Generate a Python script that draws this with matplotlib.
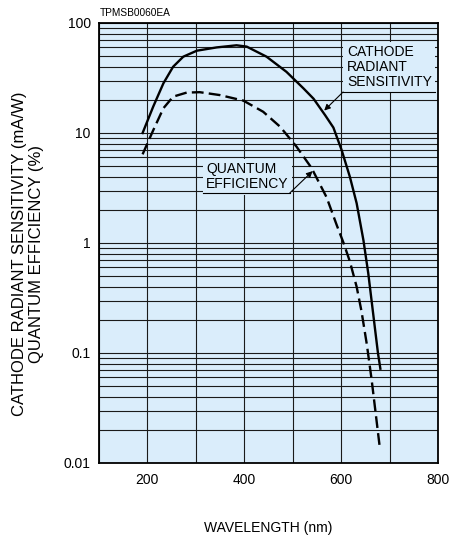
import matplotlib
matplotlib.use("Agg")
import matplotlib.pyplot as plt
from matplotlib.ticker import FixedLocator, LogLocator, MultipleLocator, FuncFormatter, NullFormatter

plt.rcParams["font.family"] = ["Liberation Sans", "DejaVu Sans"]

# cathode radiant sensitivity (mA/W)
wl_sens = [190, 212, 233, 253, 274, 302, 343, 384, 405, 446, 487, 522, 543, 567,
           584, 601, 618, 632, 646, 656, 666, 676, 681]
sens = [10, 17.4, 28.3, 40, 49.4, 56, 60, 62.7, 61, 49.4, 36, 25.5, 20.5, 14.5,
        11.2, 7.0, 4.0, 2.3, 1.06, 0.53, 0.23, 0.1, 0.072]

# quantum efficiency (%)
wl_qe = [190, 212, 233, 253, 281, 308, 350, 398, 439, 474, 508, 539, 570,
         591, 605, 618, 632, 642, 653, 663, 680]
qe = [6.4, 10.6, 16.8, 21.4, 23.3, 23.5, 22.1, 19.7, 15.6, 11.4, 7.5, 4.8, 2.6,
      1.45, 1.0, 0.68, 0.40, 0.24, 0.12, 0.057, 0.0136]

x_ticks = [200, 400, 600, 800]
y_ticks = [0.01, 0.1, 1, 10, 100]

BG = "#daedfb"
GRID = "#1a1a1a"

fig = plt.figure(figsize=(4.53, 5.36), dpi=100)
ax = fig.add_axes([99 / 453, 1 - 463 / 536, (438 - 99) / 453, (463 - 23) / 536])
ax.set_facecolor(BG)

ax.plot(wl_sens, sens, color="black", lw=1.7, zorder=4, solid_joinstyle="round")
ax.plot(wl_qe, qe, color="black", lw=1.7, ls=(0, (5, 2.2)), zorder=4)

ax.set_yscale("log")
ax.set_xlim(100, 800)
ax.set_ylim(0.01, 100)
ax.xaxis.set_major_locator(FixedLocator(x_ticks))
ax.xaxis.set_minor_locator(MultipleLocator(100))
ax.yaxis.set_major_locator(FixedLocator(y_ticks))
ax.yaxis.set_minor_locator(LogLocator(base=10, subs=range(2, 10)))
ax.yaxis.set_major_formatter(FuncFormatter(lambda v, p: f"{v:g}"))
ax.yaxis.set_minor_formatter(NullFormatter())
ax.grid(True, which="both", color=GRID, lw=0.8, zorder=1)
ax.set_axisbelow(True)
ax.tick_params(which="both", length=0, labelsize=10)
ax.tick_params(axis="y", pad=6)
ax.tick_params(axis="x", pad=7)
for s in ax.spines.values():
    s.set_linewidth(1.3)

ax.set_xlabel("WAVELENGTH (nm)", fontsize=10, labelpad=25)
fig.text(28 / 453, 1 - 254 / 536,
         "CATHODE RADIANT SENSITIVITY (mA/W)\nQUANTUM EFFICIENCY (%)",
         rotation=90, ha="center", va="center", multialignment="center",
         fontsize=12, linespacing=1.15)

fig.text(100 / 453, 1 - 13 / 536, "TPMSB0060EA", fontsize=7.3, ha="left", va="center")

box = dict(facecolor=BG, edgecolor="none", pad=2.5)

# labels with leader lines
ax.text(612, 39.8, "CATHODE\nRADIANT\nSENSITIVITY", fontsize=10, ha="left", va="center",
        linespacing=1.08, bbox=box, zorder=3)
ax.plot([604, 794], [23.6, 23.6], color="black", lw=0.8, zorder=3)
ax.annotate("", xy=(565, 16.0), xytext=(604, 23.6),
            arrowprops=dict(arrowstyle="-|>", color="black", lw=0.8,
                            mutation_scale=9, shrinkA=0, shrinkB=0), zorder=5)

ax.text(321, 4.0, "QUANTUM\nEFFICIENCY", fontsize=10, ha="left", va="center",
        linespacing=1.08, bbox=box, zorder=3)
ax.plot([315, 494], [2.85, 2.85], color="black", lw=0.8, zorder=3)
ax.annotate("", xy=(541, 4.5), xytext=(494, 2.85),
            arrowprops=dict(arrowstyle="-|>", color="black", lw=0.8,
                            mutation_scale=9, shrinkA=0, shrinkB=0), zorder=5)

fig.savefig("out.png", dpi=100)
